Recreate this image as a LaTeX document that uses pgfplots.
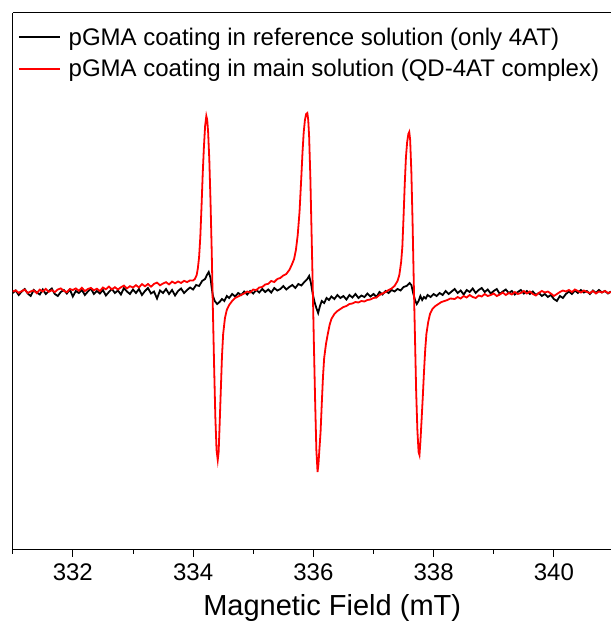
\documentclass[border=0pt]{standalone}
\usepackage{fontspec}
\setmainfont{Liberation Sans}
\usepackage{pgfplots}
\pgfplotsset{compat=1.18}
\pgfplotsset{
  legend image code/.code={%
    \draw[#1] (0pt,0pt) -- (41pt,0pt);
    \path (47pt,0pt);
  },
}

% black: pGMA coating in reference solution (only 4AT)
\pgfplotstableread{
x y
331.00 -1
331.05 1.5
331.10 -3
331.15 0.5
331.20 3
331.25 -1.5
331.30 -4
331.35 2
331.40 -0.5
331.45 -2.5
331.50 2.5
331.55 -2
331.60 1
331.65 3.5
331.70 -2
331.75 -4
331.80 0
331.85 2
331.90 -1.5
331.95 2.5
332.00 -4.5
332.05 1
332.10 -1
332.15 2
332.20 -3
332.25 0.5
332.30 3.5
332.35 -2
332.40 1
332.45 -1.5
332.50 2
332.55 -3.5
332.60 0
332.65 3
332.70 -1
332.75 1.5
332.80 -2.5
332.85 4
332.90 0.5
332.95 -2
333.00 2.5
333.05 -1
333.10 3
333.15 -3
333.20 1
333.25 4
333.30 -1.5
333.35 0.5
333.40 -6.5
333.45 1.5
333.50 -1
333.55 3
333.60 -2
333.65 2
333.70 -3.5
333.75 1
333.80 3.5
333.85 -1
333.90 2
333.95 4.5
334.00 2.5
334.05 7
334.10 6
334.15 11
334.20 13
334.23 17
334.26 20
334.29 14
334.31 4
334.33 -4
334.36 -9
334.40 -12
334.44 -10
334.48 -7
334.52 -9
334.56 -4
334.60 -6
334.65 -2
334.70 -4.5
334.75 -1
334.80 -3
334.85 0.5
334.90 -2.5
334.95 1
335.00 -1.5
335.05 2
335.10 -0.5
335.15 3
335.20 0
335.25 2.5
335.30 -0.5
335.35 4
335.40 1.5
335.45 3
335.50 6
335.55 2.5
335.60 5
335.65 7
335.70 4
335.75 8
335.80 6.5
335.85 10
335.90 13
335.93 16
335.96 9
335.99 -2
336.02 -10
336.05 -16
336.08 -21
336.11 -14
336.14 -9
336.18 -11
336.22 -6
336.26 -8
336.30 -4.5
336.35 -7
336.40 -3
336.45 -6
336.50 -4
336.55 -7.5
336.60 -3
336.65 -5.5
336.70 -2
336.75 -6
336.80 -3.5
336.85 -5
336.90 -1.5
336.95 -4.5
337.00 -2
337.05 -5
337.10 0
337.15 -2.5
337.20 1
337.25 -1
337.30 2
337.35 0.5
337.40 3
337.45 1.5
337.50 5
337.55 6
337.60 9
337.63 7
337.66 -1
337.69 -8
337.72 -12
337.75 -9
337.78 -4
337.81 -8
337.84 -5
337.87 -6.5
337.90 -3
337.95 -5
338.00 -2
338.05 -4
338.10 -1
338.15 -3
338.20 1
338.25 -2
338.30 0.5
338.35 3
338.40 -1
338.45 1.5
338.50 -2.5
338.55 2
338.60 0
338.65 3.5
338.70 -1
338.75 2
338.80 4
338.85 0
338.90 2.5
338.95 -1.5
339.00 1
339.05 3
339.10 -2
339.15 0.5
339.20 2.5
339.25 -1
339.30 1
339.35 -2.5
339.40 0
339.45 2
339.50 -1.5
339.55 1
339.60 -2
339.65 0.5
339.70 -3
339.75 -1
339.80 -4
339.85 -2
339.90 -5
339.95 -3
340.00 -7
340.05 -9
340.10 -4
340.15 -6
340.20 -2
340.25 0.5
340.30 -2
340.35 1.5
340.40 -1
340.45 2
340.50 -0.5
340.55 1
340.60 -2
340.65 1.5
340.70 -1
340.75 2
340.80 -0.5
340.85 1
340.90 -1.5
340.95 0.5
}\refdata

% red: pGMA coating in main solution (QD-4AT complex)
\pgfplotstableread{
x y
331.00 0.5
331.05 1.6
331.10 -0.8
331.15 0.8
331.20 2.4
331.25 -1.0
331.30 0.6
331.35 1.7
331.40 -1.2
331.45 2.4
331.50 0.5
331.55 3.1
331.60 0.2
331.65 1.8
331.70 -0.1
331.75 2.5
331.80 3.6
331.85 1.2
331.90 -0.2
331.95 2.9
332.00 2.0
332.05 3.6
332.10 1.2
332.15 4.3
332.20 0.9
332.25 3.0
332.30 4.1
332.35 1.7
332.40 3.3
332.45 0.9
332.50 4.5
332.55 2.7
332.60 5.4
332.65 2.6
332.70 4.8
332.75 2.5
332.80 4.7
332.85 6.4
332.90 3.6
332.95 5.8
333.00 4.5
333.05 6.8
333.10 4.6
333.15 7.9
333.20 5.7
333.25 8.0
333.30 5.3
333.35 8.1
333.40 9.4
333.45 6.7
333.50 8.5
333.55 9.8
333.60 7.6
333.65 10.4
333.70 8.7
333.75 10.5
333.80 9.0
333.85 11.2
333.90 9.9
333.95 11.6
334.00 11.5
334.03 13
334.06 17
334.08 24
334.10 35
334.12 55
334.14 85
334.16 118
334.18 145
334.20 166
334.22 176
334.235 172
334.25 160
334.27 132
334.29 90
334.31 40
334.32 10
334.33 -20
334.35 -75
334.37 -125
334.39 -158
334.41 -168
334.425 -160
334.44 -135
334.46 -100
334.48 -65
334.50 -42
334.53 -26
334.56 -18
334.60 -13
334.65 -9
334.70 -6
334.75 -4.5
334.80 -3
334.85 -1.5
334.90 0.5
334.95 -0.5
335.00 2.5
335.05 1.8
335.10 4.5
335.15 5.0
335.20 7.5
335.25 8.2
335.30 11
335.35 10
335.40 13
335.45 14
335.50 16.5
335.55 18
335.60 22
335.64 27
335.68 33
335.71 42
335.74 57
335.77 80
335.80 115
335.82 140
335.84 160
335.86 172
335.88 178
335.90 179
335.915 172
335.93 155
335.95 115
335.97 60
335.99 5
336.01 -55
336.03 -110
336.05 -158
336.07 -180
336.085 -172
336.10 -158
336.12 -140
336.14 -112
336.16 -85
336.18 -66
336.21 -52
336.24 -42
336.27 -33
336.30 -27
336.35 -22
336.40 -19
336.45 -17
336.50 -15
336.55 -14
336.60 -12
336.65 -11.5
336.70 -10
336.75 -10.5
336.80 -9
336.85 -9.5
336.90 -8
336.95 -7.5
337.00 -6
337.05 -5.5
337.10 -3
337.15 -1.5
337.20 0
337.25 2
337.30 3.5
337.35 6
337.40 11
337.43 17
337.46 30
337.48 45
337.50 75
337.52 108
337.54 135
337.56 150
337.58 158
337.595 160
337.61 152
337.63 120
337.65 70
337.67 10
337.69 -45
337.71 -100
337.73 -138
337.75 -160
337.765 -163
337.78 -150
337.80 -128
337.82 -105
337.84 -80
337.86 -58
337.88 -42
337.91 -30
337.94 -22
337.98 -17
338.03 -14
338.08 -12
338.13 -10
338.18 -9
338.23 -8
338.28 -6.5
338.35 -7
338.40 -5
338.45 -6.5
338.50 -4
338.55 -5.5
338.60 -3
338.65 -5
338.70 -6
338.75 -3.5
338.80 -4.5
338.85 -2
338.90 -4
338.95 -3
339.00 -1.5
339.05 -4
339.10 -2.5
339.15 -0.5
339.20 -3
339.25 -1
339.30 -2.5
339.35 0
339.40 -2
339.45 -1
339.50 1
339.55 -1.5
339.60 0.5
339.65 -2
339.70 -3.5
339.75 -1
339.80 1
339.85 -0.5
339.90 0.5
339.95 -1.5
340.00 -4
340.05 -2
340.10 0
340.15 1.5
340.20 0.5
340.25 2
340.30 0
340.35 2.5
340.40 1
340.45 -0.5
340.50 1.5
340.55 0
340.60 -1
340.65 1
340.70 -1.5
340.75 0.5
340.80 -0.5
340.85 1
340.90 -1
340.95 0
}\maindata

\begin{document}
\begin{tikzpicture}
\begin{axis}[
    scale only axis,
    width=598.3pt, height=536.8pt,
    xmin=331, xmax=340.95,
    ymin=-257.5, ymax=279.3,
    axis x line*=box, axis y line*=left,
    axis line style={line width=0.9pt},
    xtick={332,334,336,338,340},
    minor xtick={331,333,335,337,339},
    xtick pos=lower, tick align=outside,
    ytick=\empty,
    major tick length=7pt, minor tick length=4pt,
    every tick/.style={black, line width=0.9pt},
    /pgf/number format/assume math mode=true,
    /pgf/number format/1000 sep={},
    xticklabel style={font=\fontsize{24}{28}\selectfont, yshift=-3.5pt},
    xlabel={Magnetic Field (mT)},
    xlabel style={font=\fontsize{29}{34}\selectfont,
        at={(rel axis cs:0.534,0)}, anchor=base, yshift=-66pt},
    legend style={draw=none, fill=none, at={(0,1)}, anchor=north west,
        font=\fontsize{24}{28}\selectfont,
        xshift=2pt, yshift=-11pt, row sep=8.5pt},
    legend cell align=left,
]
\addplot[black, line width=1.8pt] table {\refdata};
\addplot[red, line width=1.8pt] table {\maindata};
\legend{pGMA coating in reference solution (only 4AT), pGMA coating in main solution (QD-4AT complex)}
\coordinate (sw) at (rel axis cs:0,0);
\coordinate (ne) at (rel axis cs:1,1);
\end{axis}
\pgfresetboundingbox
\path ([xshift=-12.7pt,yshift=-72.5pt]sw) rectangle ([yshift=12.7pt]ne);
\end{tikzpicture}
\end{document}
